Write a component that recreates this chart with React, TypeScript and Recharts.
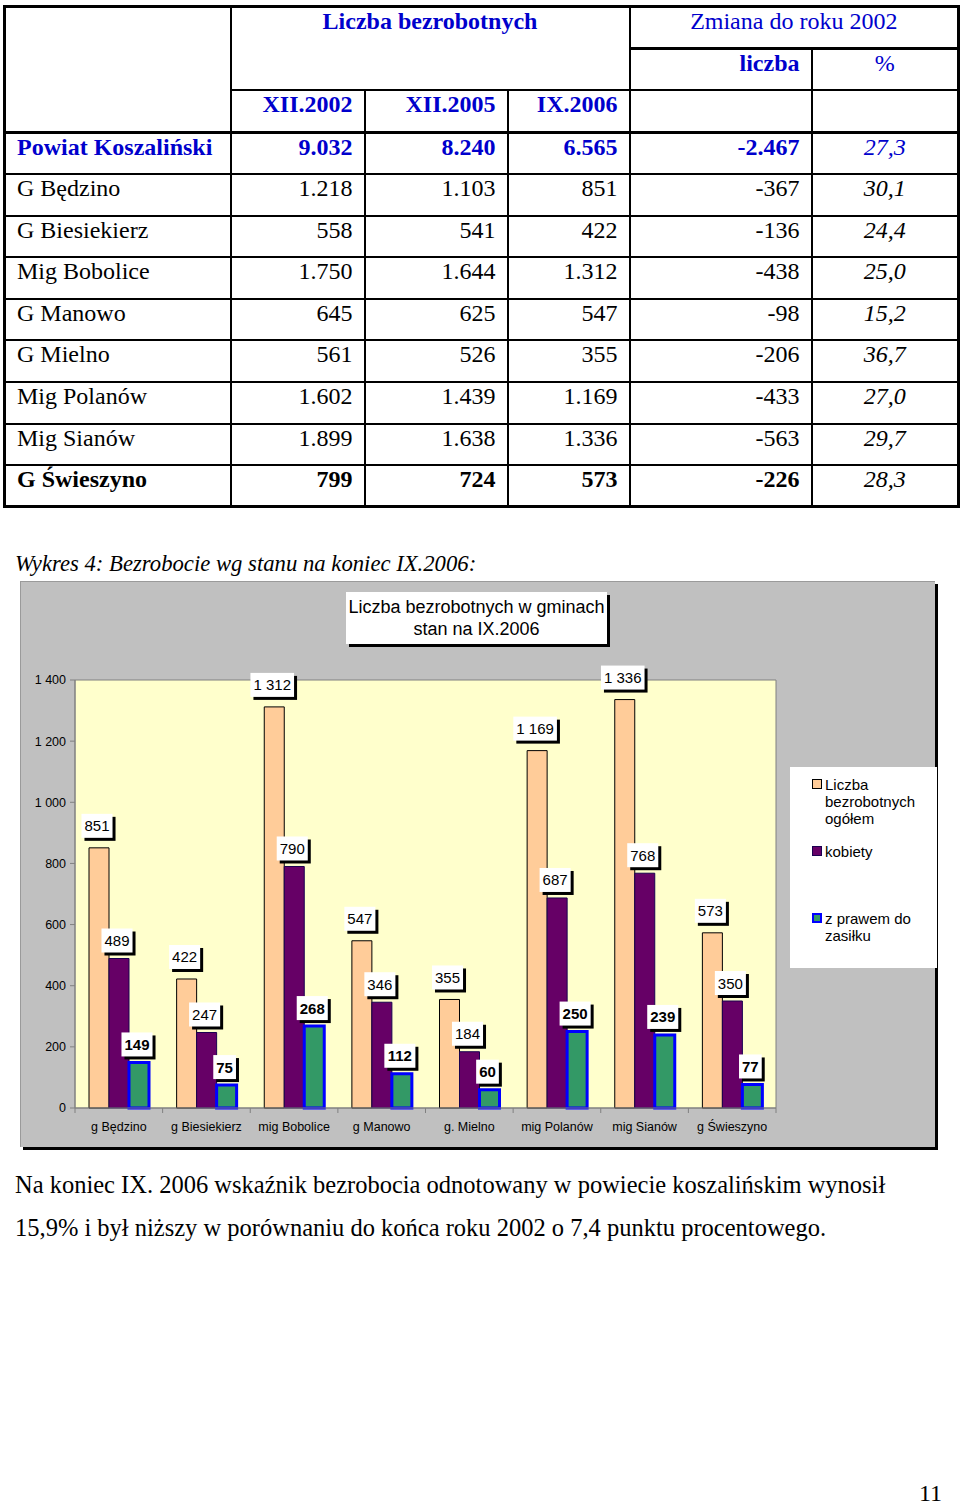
import React from "react"
import {
  BarChart,
  Bar,
  XAxis,
  YAxis,
  CartesianGrid,
  ReferenceArea,
  LabelList,
  Legend,
} from "recharts"

// --- table (Liczba bezrobotnych) ---
const rowNames = [
  "Powiat Koszaliński",
  "G Będzino",
  "G Biesiekierz",
  "Mig Bobolice",
  "G Manowo",
  "G Mielno",
  "Mig Polanów",
  "Mig Sianów",
  "G Świeszyno",
]
const xii2002 = ["9.032", "1.218", "558", "1.750", "645", "561", "1.602", "1.899", "799"]
const xii2005 = ["8.240", "1.103", "541", "1.644", "625", "526", "1.439", "1.638", "724"]
const ix2006 = ["6.565", "851", "422", "1.312", "547", "355", "1.169", "1.336", "573"]
const zmianaLiczba = ["-2.467", "-367", "-136", "-438", "-98", "-206", "-433", "-563", "-226"]
const zmianaProc = ["27,3", "30,1", "24,4", "25,0", "15,2", "36,7", "27,0", "29,7", "28,3"]

// --- chart (stan na IX.2006) ---
const gminy = [
  "g Będzino",
  "g Biesiekierz",
  "mig Bobolice",
  "g Manowo",
  "g. Mielno",
  "mig Polanów",
  "mig Sianów",
  "g Świeszyno",
]
const ogolem = [851, 422, 1312, 547, 355, 1169, 1336, 573]
const kobiety = [489, 247, 790, 346, 184, 687, 768, 350]
const zasilek = [149, 75, 268, 112, 60, 250, 239, 77]
const yTicks = [0, 200, 400, 600, 800, 1000, 1200, 1400]

const data = gminy.map((name, i) => ({
  name,
  ogolem: ogolem[i],
  kobiety: kobiety[i],
  zasilek: zasilek[i],
}))

const series = [
  { key: "ogolem", name: "Liczba bezrobotnych ogółem", fill: "#ffcc99", stroke: "#000000", strokeWidth: 1, gap: 10, bold: false },
  { key: "kobiety", name: "kobiety", fill: "#660066", stroke: "#1a0050", strokeWidth: 1, gap: 6, bold: false },
  { key: "zasilek", name: "z prawem do zasiłku", fill: "#339966", stroke: "#0000ff", strokeWidth: 3, gap: 6, bold: true },
]

const SERIF = '"Liberation Serif", "Times New Roman", serif'
const SANS = '"Liberation Sans", Arial, sans-serif'
const BLUE = "#0000cc"

const CHART_W = 915
const CHART_H = 566
const PLOT_W = 701

const fmt = (v: number) => String(v).replace(/\B(?=(\d{3})+(?!\d))/g, " ")

// white data label box with a black drop shadow
const makeLabel = (gap: number, bold: boolean) => (props: any) => {
  const { x, y, width, value } = props
  const text = fmt(Number(value))
  const tw = text.split("").reduce((s, c) => s + (c === " " ? 4.2 : 8.35), 0)
  const bw = tw + 6
  const bh = 24
  const cx = Number(x) + Number(width) / 2 - 2
  const top = Number(y) - gap - bh
  return (
    <g>
      <rect x={cx - bw / 2 + 3} y={top + 3} width={bw} height={bh} fill="#000" />
      <rect x={cx - bw / 2} y={top} width={bw} height={bh} fill="#fff" />
      <text
        x={cx}
        y={top + 17.5}
        textAnchor="middle"
        fontSize={15}
        fontFamily={SANS}
        fontWeight={bold ? "bold" : "normal"}
        fill="#000"
      >
        {text}
      </text>
    </g>
  )
}

const XTick = (props: any) => {
  const { x, y, payload, index } = props
  const half = PLOT_W / gminy.length / 2
  const axisY = y - 14
  return (
    <g>
      <line x1={x - half} y1={axisY} x2={x - half} y2={axisY + 5} stroke="#808080" />
      {index === gminy.length - 1 && (
        <line x1={x + half} y1={axisY} x2={x + half} y2={axisY + 5} stroke="#808080" />
      )}
      <text x={x} y={y} dy="0.71em" textAnchor="middle" fontSize={12.5} fontFamily={SANS} fill="#000">
        {payload.value}
      </text>
    </g>
  )
}

const LegendBox = () => (
  <div
    style={{
      position: "relative",
      width: 147,
      height: 201,
      background: "#fff",
      fontFamily: SANS,
      fontSize: 15,
      lineHeight: "17px",
      color: "#000",
    }}
  >
    {series.map((s, i) => (
      <div key={s.key} style={{ position: "absolute", left: 22, top: 8.5 + i * 67, display: "flex" }}>
        <span
          style={{
            display: "inline-block",
            boxSizing: "border-box",
            width: 10,
            height: 10,
            marginTop: 3.5,
            marginRight: 3,
            background: s.fill,
            border: `${s.strokeWidth > 1 ? 2 : 1}px solid ${s.stroke}`,
            flex: "none",
          }}
        />
        <span style={{ width: 105 }}>{s.name}</span>
      </div>
    ))}
  </div>
)

const cell: React.CSSProperties = {
  border: "2px solid #000",
  padding: "0 11px",
  verticalAlign: "top",
  lineHeight: "27px",
  whiteSpace: "nowrap",
}
const num: React.CSSProperties = { ...cell, textAlign: "right" }
const pct: React.CSSProperties = { ...cell, textAlign: "center", fontStyle: "italic", fontWeight: "normal" }

function Table() {
  return (
    <table
      style={{
        position: "absolute",
        left: 3,
        top: 5,
        width: 954,
        borderCollapse: "collapse",
        tableLayout: "fixed",
        fontFamily: SERIF,
        fontSize: 24,
        border: "3px solid #000",
      }}
    >
      <colgroup>
        <col style={{ width: 226 }} />
        <col style={{ width: 134 }} />
        <col style={{ width: 143 }} />
        <col style={{ width: 122 }} />
        <col style={{ width: 182 }} />
        <col style={{ width: 147 }} />
      </colgroup>
      <tbody>
        <tr style={{ height: 42 }}>
          <td rowSpan={3} style={cell}></td>
          <td colSpan={3} rowSpan={2} style={{ ...cell, textAlign: "center", color: BLUE, fontWeight: "bold" }}>
            Liczba bezrobotnych
          </td>
          <td colSpan={2} style={{ ...cell, textAlign: "center", color: BLUE, borderBottom: "3px solid #000" }}>
            Zmiana do roku 2002
          </td>
        </tr>
        <tr style={{ height: 41 }}>
          <td style={{ ...num, color: BLUE, fontWeight: "bold" }}>liczba</td>
          <td style={{ ...cell, textAlign: "center", color: BLUE }}>%</td>
        </tr>
        <tr style={{ height: 43, borderBottom: "3px solid #000" }}>
          <td style={{ ...num, color: BLUE, fontWeight: "bold" }}>XII.2002</td>
          <td style={{ ...num, color: BLUE, fontWeight: "bold" }}>XII.2005</td>
          <td style={{ ...num, color: BLUE, fontWeight: "bold" }}>IX.2006</td>
          <td style={cell}></td>
          <td style={cell}></td>
        </tr>
        {rowNames.map((name, i) => {
          const first = i === 0
          const last = i === rowNames.length - 1
          const color = first ? BLUE : "#000"
          const weight = first || last ? "bold" : "normal"
          return (
            <tr key={name} style={{ height: 41.6 }}>
              <td style={{ ...cell, color, fontWeight: weight }}>{name}</td>
              <td style={{ ...num, color, fontWeight: weight }}>{xii2002[i]}</td>
              <td style={{ ...num, color, fontWeight: weight }}>{xii2005[i]}</td>
              <td style={{ ...num, color, fontWeight: weight }}>{ix2006[i]}</td>
              <td style={{ ...num, color, fontWeight: weight }}>{zmianaLiczba[i]}</td>
              <td style={{ ...pct, color }}>{zmianaProc[i]}</td>
            </tr>
          )
        })}
      </tbody>
    </table>
  )
}

export default function App() {
  return (
    <div style={{ position: "absolute", left: 0, top: 0, width: 960, height: 1503, background: "#fff" }}>
      <Table />

      <div
        style={{
          position: "absolute",
          left: 15,
          top: 550,
          fontFamily: SERIF,
          fontSize: 22.7,
          fontStyle: "italic",
          lineHeight: "27px",
          whiteSpace: "nowrap",
        }}
      >
        Wykres 4: Bezrobocie wg stanu na koniec IX.2006:
      </div>

      <div
        style={{
          position: "absolute",
          left: 20,
          top: 581,
          width: CHART_W,
          height: CHART_H,
          background: "#c0c0c0",
          boxShadow: "3px 3px 0 #000, inset 1px 1px 0 #9a9a9a",
        }}
      >
        <BarChart
          width={CHART_W}
          height={CHART_H}
          data={data}
          margin={{ top: 99, right: 159, bottom: 0, left: 0 }}
          barSize={20}
          barGap={0}
        >
          <CartesianGrid fill="#ffffcc" fillOpacity={1} horizontal={false} vertical={false} />
          <ReferenceArea y1={0} y2={1400} fill="none" stroke="#808080" strokeWidth={1} />
          <XAxis
            dataKey="name"
            height={39}
            interval={0}
            tickLine={false}
            tickSize={0}
            tickMargin={14}
            axisLine={{ stroke: "#808080" }}
            tick={<XTick />}
          />
          <YAxis
            width={55}
            domain={[0, 1400]}
            ticks={yTicks}
            interval={0}
            tickFormatter={fmt}
            tickSize={5}
            tickMargin={4}
            axisLine={{ stroke: "#808080" }}
            tickLine={{ stroke: "#808080" }}
            tick={{ fontSize: 12.5, fontFamily: SANS, fill: "#000" }}
          />
          <Legend
            layout="vertical"
            align="center"
            verticalAlign="middle"
            content={<LegendBox />}
            wrapperStyle={{ left: 770, top: 186, width: 147, height: 201 }}
          />
          {series.map((s) => (
            <Bar
              key={s.key}
              dataKey={s.key}
              name={s.name}
              fill={s.fill}
              stroke={s.stroke}
              strokeWidth={s.strokeWidth}
              isAnimationActive={false}
            >
              <LabelList dataKey={s.key} content={makeLabel(s.gap, s.bold)} />
            </Bar>
          ))}
        </BarChart>

        <div
          style={{
            position: "absolute",
            left: 326,
            top: 11,
            width: 261,
            height: 52,
            background: "#fff",
            boxShadow: "3px 3px 0 #000",
            fontFamily: SANS,
            fontSize: 18,
            lineHeight: "22px",
            textAlign: "center",
            paddingTop: 4,
            boxSizing: "border-box",
          }}
        >
          Liczba bezrobotnych w gminach
          <br />
          stan na IX.2006
        </div>
      </div>

      <div
        style={{
          position: "absolute",
          left: 15,
          top: 1163,
          fontFamily: SERIF,
          fontSize: 24.5,
          lineHeight: "43px",
          whiteSpace: "nowrap",
        }}
      >
        Na koniec IX. 2006 wskaźnik bezrobocia odnotowany w powiecie koszalińskim wynosił
        <br />
        15,9% i był niższy w porównaniu do końca roku 2002 o 7,4 punktu procentowego.
      </div>

      <div
        style={{
          position: "absolute",
          left: 900,
          top: 1480,
          width: 42,
          textAlign: "right",
          fontFamily: SERIF,
          fontSize: 24,
          lineHeight: "27px",
        }}
      >
        11
      </div>
    </div>
  )
}
